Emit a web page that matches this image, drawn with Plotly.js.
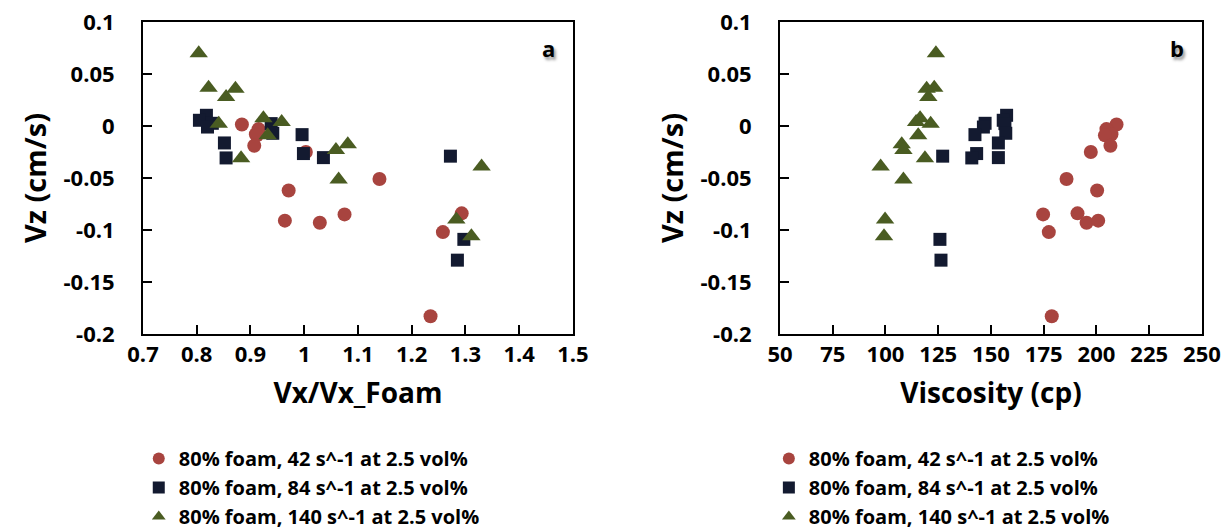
<!DOCTYPE html>
<html><head><meta charset="utf-8">
<script src="https://cdn.plot.ly/plotly-3.0.1.min.js"></script>
<style>html,body{margin:0;padding:0;background:#fff}#chart{width:1226px;height:530px}</style>
</head><body><div id="chart"></div><script>
// Series names
const seriesNames = ["80% foam, 42 s^-1 at 2.5 vol%", "80% foam, 84 s^-1 at 2.5 vol%", "80% foam, 140 s^-1 at 2.5 vol%"];

// 42 s^-1
const vz42    = [0.0015, -0.003, -0.008, -0.009, -0.019, -0.025, -0.051, -0.062, -0.085, -0.084, -0.093, -0.091, -0.102, -0.183];
const ratio42 = [0.884, 0.915, 0.910, 0.912, 0.907, 1.003, 1.140, 0.971, 1.075, 1.293, 1.029, 0.964, 1.258, 1.235];
const visc42  = [209.5, 204.7, 207.1, 204.0, 206.6, 197.3, 185.8, 200.3, 174.7, 191.0, 195.3, 200.8, 177.4, 178.8];

// 84 s^-1
const vz84    = [0.0103, 0.0055, 0.0026, 0.0023, -0.001, -0.007, -0.0083, -0.0163, -0.0265, -0.0307, -0.0304, -0.029, -0.109, -0.129];
const ratio84 = [0.818, 0.805, 0.829, 0.9385, 0.820, 0.9415, 0.996, 0.8515, 0.9985, 0.8546, 1.0357, 1.272, 1.297, 1.285];
const visc84  = [157.4, 155.8, 147.2, 156.6, 146.4, 157.0, 142.4, 153.5, 143.2, 140.9, 153.5, 127.1, 125.8, 126.3];

// 140 s^-1
const vz140    = [0.070, 0.0367, 0.0358, 0.0278, 0.0074, 0.0038, 0.0022, -0.009, -0.0176, -0.023, -0.031, -0.039, -0.0514, -0.090, -0.106];
const ratio140 = [0.8037, 0.822, 0.872, 0.8546, 0.924, 0.958, 0.841, 0.932, 1.081, 1.059, 0.8825, 1.330, 1.064, 1.283, 1.311];
const visc140  = [123.9, 123.1, 119.5, 120.3, 116.4, 114.5, 121.4, 115.5, 107.7, 108.5, 118.7, 97.7, 108.5, 99.8, 99.3];

// Tick labels
const yTickVals = [0.1, 0.05, 0, -0.05, -0.1, -0.15, -0.2];
const yTickText = ["0.1", "0.05", "0", "-0.05", "-0.1", "-0.15", "-0.2"];
const xTickValsA = [0.7, 0.8, 0.9, 1.0, 1.1, 1.2, 1.3, 1.4, 1.5];
const xTickTextA = ["0.7", "0.8", "0.9", "1", "1.1", "1.2", "1.3", "1.4", "1.5"];
const xTickValsB = [50, 75, 100, 125, 150, 175, 200, 225, 250];
const xTickTextB = ["50", "75", "100", "125", "150", "175", "200", "225", "250"];

const FONT = "Open Sans, sans-serif";
const colors = ["#a8443f", "#131a30", "#4a5c22"];
const symbols = ["circle", "square", "triangle-up"];
const sizes = [14, 13, 16];

const vzList = [vz42, vz84, vz140];
const ratioList = [ratio42, ratio84, ratio140];
const viscList = [visc42, visc84, visc140];

const traces = [];
for (let i = 0; i < 3; i++) {
  traces.push({
    type: "scatter", mode: "markers", name: seriesNames[i],
    x: ratioList[i], y: vzList[i], xaxis: "x", yaxis: "y", legend: "legend",
    marker: {symbol: symbols[i], size: sizes[i], color: colors[i], line: {width: 0}}
  });
}
for (let i = 0; i < 3; i++) {
  traces.push({
    type: "scatter", mode: "markers", name: seriesNames[i],
    x: viscList[i], y: vzList[i], xaxis: "x2", yaxis: "y2", legend: "legend2",
    marker: {symbol: symbols[i], size: sizes[i], color: colors[i], line: {width: 0}}
  });
}

function xAxis(domain, range, vals, text, title, anchor) {
  return {
    domain: domain, range: range, anchor: anchor,
    tickmode: "array", tickvals: vals, ticktext: text,
    ticks: "inside", ticklen: 9, tickwidth: 2, tickcolor: "#000",
    showline: true, linewidth: 2, linecolor: "#000", mirror: true,
    showgrid: false, zeroline: false, ticklabelstandoff: 0,
    tickfont: {family: FONT, size: 22, weight: 700, color: "#000"},
    title: {text: title, font: {family: FONT, size: 28, weight: 700, color: "#000"}, standoff: 16}
  };
}
function yAxis(anchor) {
  return {
    domain: [0, 1], range: [-0.2, 0.1], anchor: anchor,
    tickmode: "array", tickvals: yTickVals, ticktext: yTickText,
    ticks: "inside", ticklen: 9, tickwidth: 2, tickcolor: "#000",
    showline: true, linewidth: 2, linecolor: "#000", mirror: true,
    showgrid: false, zeroline: false, ticklabelstandoff: 22,
    tickfont: {family: FONT, size: 22, weight: 700, color: "#000"},
    title: {text: "Vz (cm/s)", font: {family: FONT, size: 29, weight: 700, color: "#000"}, standoff: 8}
  };
}

const legendBase = {
  orientation: "v", xanchor: "left", yanchor: "top", y: -0.3365,
  bgcolor: "rgba(0,0,0,0)", itemsizing: "constant",
  font: {family: FONT, size: 20, weight: 700, color: "#000"}
};

const layout = {
  width: 1226, height: 530,
  margin: {l: 143, r: 24, t: 22, b: 196, autoexpand: false},
  paper_bgcolor: "#fff", plot_bgcolor: "#fff",
  showlegend: true,
  xaxis: xAxis([0, 0.406], [0.7, 1.5], xTickValsA, xTickTextA, "Vx/Vx_Foam", "y"),
  yaxis: yAxis("x"),
  xaxis2: xAxis([0.6015, 1], [50, 250], xTickValsB, xTickTextB, "Viscosity (cp)", "y2"),
  yaxis2: yAxis("x2"),
  legend: Object.assign({}, legendBase, {x: -0.004}),
  legend2: Object.assign({}, legendBase, {x: 0.591}),
  annotations: [
    {text: "a", xref: "x domain", yref: "y domain", x: 0.942, y: 0.917, xanchor: "center", yanchor: "middle", showarrow: false,
     font: {family: FONT, size: 22, weight: 700, color: "#000", shadow: "2px 3px 3px #999"}},
    {text: "b", xref: "x2 domain", yref: "y2 domain", x: 0.941, y: 0.917, xanchor: "center", yanchor: "middle", showarrow: false,
     font: {family: FONT, size: 22, weight: 700, color: "#000", shadow: "2px 3px 3px #999"}}
  ]
};

Plotly.newPlot("chart", traces, layout, {displayModeBar: false, staticPlot: true});
</script></body></html>
